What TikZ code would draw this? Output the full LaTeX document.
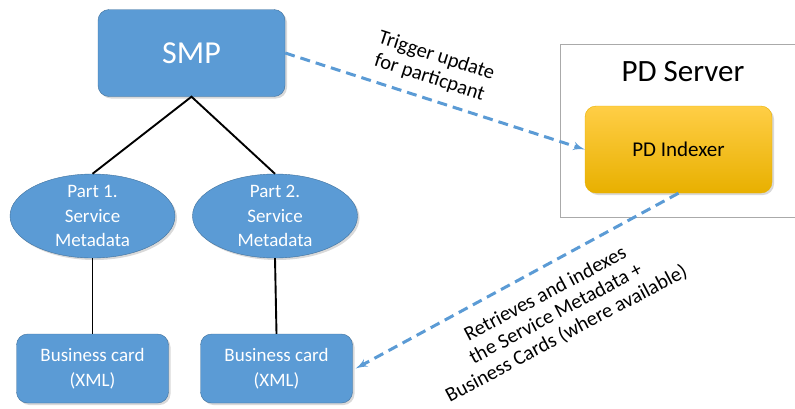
\documentclass[tikz,border=0pt]{standalone}
\usepackage{fontspec}
\setmainfont{Carlito}
\usetikzlibrary{arrows, shapes.geometric, shadows}
\definecolor{smpblue}{RGB}{91,155,213}
\definecolor{smpborder}{RGB}{65,113,156}
\definecolor{idxtop}{RGB}{255,206,70}
\definecolor{idxbottom}{RGB}{232,176,0}
\definecolor{framegray}{RGB}{170,170,170}

\begin{document}
\begin{tikzpicture}[x=1pt,y=-1pt,>=latex',
  blue box/.style={rectangle,rounded corners=11pt,fill=smpblue,draw=smpborder,
    text=white,inner sep=0pt,align=center,
    drop shadow={shadow xshift=2pt,shadow yshift=-2pt,opacity=0.3}},
  meta node/.style={ellipse,fill=smpblue,draw=smpborder,text=white,
    inner xsep=0pt,inner ysep=-10pt,minimum width=165pt,minimum height=84pt,
    align=center,font=\fontsize{19}{24.5}\selectfont,
    drop shadow={shadow xshift=2pt,shadow yshift=-2pt,opacity=0.3}},
  card node/.style={blue box,minimum width=152pt,minimum height=69pt,
    font=\fontsize{19}{25}\selectfont},
  tree line/.style={black,line width=1.9pt},
  flow line/.style={->,smpblue,line width=3pt,dash pattern=on 10pt off 6pt},
  flow label/.style={align=center,font=\fontsize{20.5}{22.5}\selectfont}]
  \useasboundingbox (0,0) rectangle (795,408);

  % server frame
  \node[draw=framegray,line width=1pt,minimum width=250pt,minimum height=173pt,
    inner sep=0pt] (server) at (685,130.5) {};
  \node[anchor=base,font=\fontsize{31}{36}\selectfont] (title) at (683,81) {PD Server};
  \node[rectangle,rounded corners=11pt,top color=idxtop,bottom color=idxbottom,
    draw=idxbottom,minimum width=187pt,minimum height=87pt,
    font=\fontsize{21}{25}\selectfont,
    drop shadow={shadow xshift=2pt,shadow yshift=-2pt,opacity=0.3}]
    (idx) at (678.5,149.5) {PD Indexer};

  % tree
  \node[blue box,minimum width=187pt,minimum height=87pt,
    font=\fontsize{32}{36}\selectfont] (smp) at (191.5,53) {SMP};
  \node[meta node] (part1) at (92.5,216) {Part 1.\\Service\\Metadata};
  \node[meta node] (part2) at (275,216) {Part 2.\\Service\\Metadata};
  \node[card node] (card1) at (92.5,368.5) {Business card\\(XML)};
  \node[card node] (card2) at (276.5,368.5) {Business card\\(XML)};

  \draw[tree line] (part1.north) -- (smp.south) -- (part2.north);
  \draw[tree line] (part1.south) -- (card1.north);
  \draw[tree line] (part2.south) -- (card2.north);

  % update and indexing
  \draw[flow line] (smp.east) -- (idx.west);
  \draw[flow line] (idx.south) -- ([xshift=3pt]card2.east);
  \node[flow label,rotate=-18] (trigger) at (433,67) {Trigger update\\for particpant};
  \node[flow label,rotate=28] (fetch) at (556,314)
    {Retrieves and indexes\\the Service Metadata +\\Business Cards (where available)};
\end{tikzpicture}
\end{document}
